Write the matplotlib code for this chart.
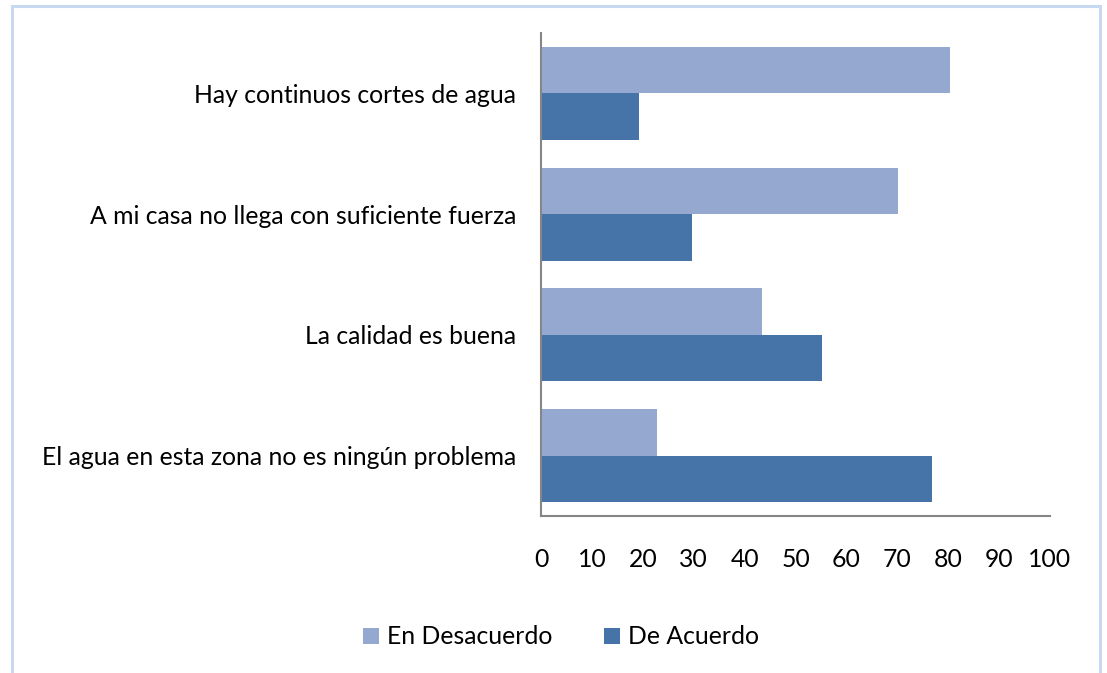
import numpy as np
import matplotlib
matplotlib.use("Agg")
import matplotlib.pyplot as plt
from matplotlib.patches import Rectangle

# --- Data ---
categories = [
    "Hay continuos cortes de agua",
    "A mi casa no llega con suficiente fuerza",
    "La calidad es buena",
    "El agua en esta zona no es ningún problema",
]
en_desacuerdo = [80.4, 70.1, 43.4, 22.7]
de_acuerdo = [19.3, 29.6, 55.3, 76.8]
series_names = ["En Desacuerdo", "De Acuerdo"]
x_ticks = [0, 10, 20, 30, 40, 50, 60, 70, 80, 90, 100]

# --- Style ---
LIGHT = "#95a9d0"
DARK = "#4674a8"
SPINE = "#868686"
BORDER = "#c6d9f1"
FONT = "Lato"
FS = 17.8
BAR_H = 0.385

plt.rcParams["font.family"] = [FONT, "DejaVu Sans"]

fig = plt.figure(figsize=(11.07, 6.73), dpi=100)
W, H = 1107, 673
ax = fig.add_axes([541 / W, 1 - 516 / H, (1050 - 541) / W, (516 - 33) / H])

y = np.arange(len(categories))[::-1].astype(float)
ax.barh(y + BAR_H / 2, en_desacuerdo, height=BAR_H, color=LIGHT, label=series_names[0])
ax.barh(y - BAR_H / 2, de_acuerdo, height=BAR_H, color=DARK, label=series_names[1])

ax.set_xlim(0, 100)
ax.set_ylim(-0.5, len(categories) - 0.5)
ax.set_yticks(y)
ax.set_yticklabels(categories, fontsize=FS)
ax.set_xticks(x_ticks)
ax.set_xticklabels([str(t) for t in x_ticks], fontsize=FS)
ax.tick_params(axis="both", length=0)
ax.tick_params(axis="y", pad=18)
ax.tick_params(axis="x", pad=23)

for side in ["top", "right"]:
    ax.spines[side].set_visible(False)
for side in ["left", "bottom"]:
    ax.spines[side].set_color(SPINE)
    ax.spines[side].set_linewidth(1.5)

leg = fig.legend(loc="center", bbox_to_anchor=(561 / W, 1 - 637 / H), ncol=2,
                 frameon=False, fontsize=FS, handlelength=0.65, handleheight=0.65,
                 handletextpad=0.3, columnspacing=2.1)

# outer chart border
fig.patches.append(Rectangle((12 / W, -0.05), (1100 - 12) / W, 1.05 - 6 / H,
                             transform=fig.transFigure, fill=False,
                             edgecolor=BORDER, linewidth=2.2))

fig.savefig("out.png", dpi=100)
